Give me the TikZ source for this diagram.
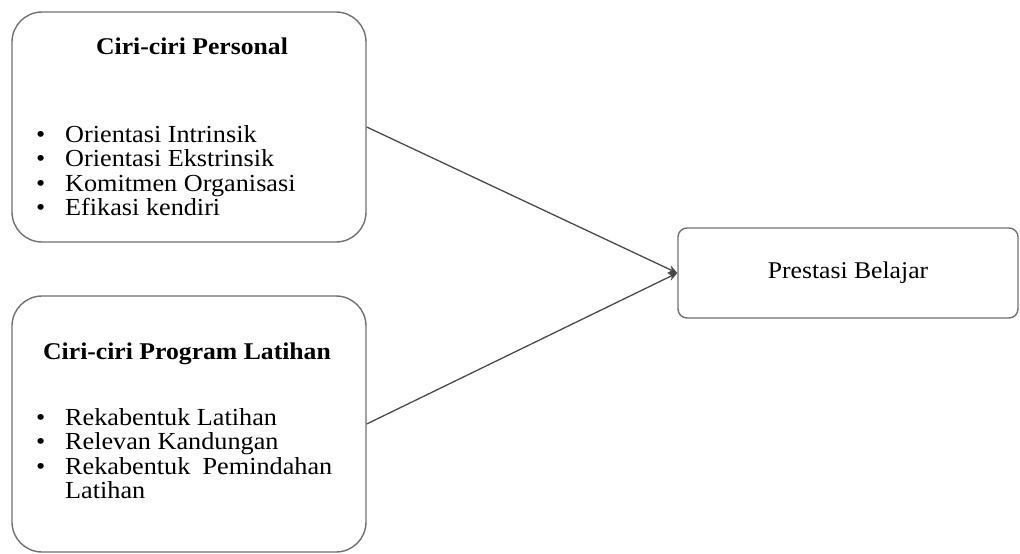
\documentclass[tikz,border=0pt]{standalone}
\usepackage{fontspec}
\setmainfont[FakeStretch=1.07]{Liberation Serif}
\usetikzlibrary{positioning, arrows.meta}
\definecolor{frame}{HTML}{707070}
\definecolor{wire}{HTML}{4A4A4A}
\newcommand{\pt}{\makebox[29pt][l]{\textbullet}}

\begin{document}
\begin{tikzpicture}[x=1pt, y=-1pt,
    panel/.style={draw=frame, line width=1.4pt, rounded corners=30pt, minimum width=354pt, inner sep=0pt},
    target/.style={draw=frame, line width=1.4pt, rounded corners=9pt, minimum width=340pt, minimum height=90pt, inner sep=0pt, font=\fontsize{24}{24}\selectfont},
    heading/.style={inner sep=0pt, font=\fontsize{24}{24}\selectfont\bfseries},
    items/.style={inner sep=0pt, anchor=north west, align=left, font=\fontsize{24.5}{24.5}\selectfont},
    link/.style={draw=wire, line width=1.3pt, -{Stealth[length=9pt, width=8pt, fill=black]}}]
  \useasboundingbox (0,0) rectangle (1020,554);
  % Kotak kiri
  \node[panel, minimum height=230pt] (personal) at (189,127) {};
  \node[heading] (personalTitle) at (192,46) {Ciri-ciri Personal};
  \node[items] (personalList) at (36,125)
    {\pt Orientasi Intrinsik\\ \pt Orientasi Ekstrinsik\\ \pt Komitmen Organisasi\\ \pt Efikasi kendiri};
  \node[panel, minimum height=256pt] (program) at (189,424) {};
  \node[heading] (programTitle) at (187,354) {Ciri-ciri Program Latihan};
  \node[items] (programList) at (36,408)
    {\pt Rekabentuk Latihan\\ \pt Relevan Kandungan\\ \pt Rekabentuk\hspace{0.5em}Pemindahan\\ \hspace*{29pt}Latihan};
  % Kotak kanan
  \node[target] (prestasi) at (848,273) {Prestasi Belajar};
  % Anak panah
  \draw[link] (personal.east) -- (prestasi.west);
  \draw[link] (program.east) -- (prestasi.west);
\end{tikzpicture}
\end{document}
